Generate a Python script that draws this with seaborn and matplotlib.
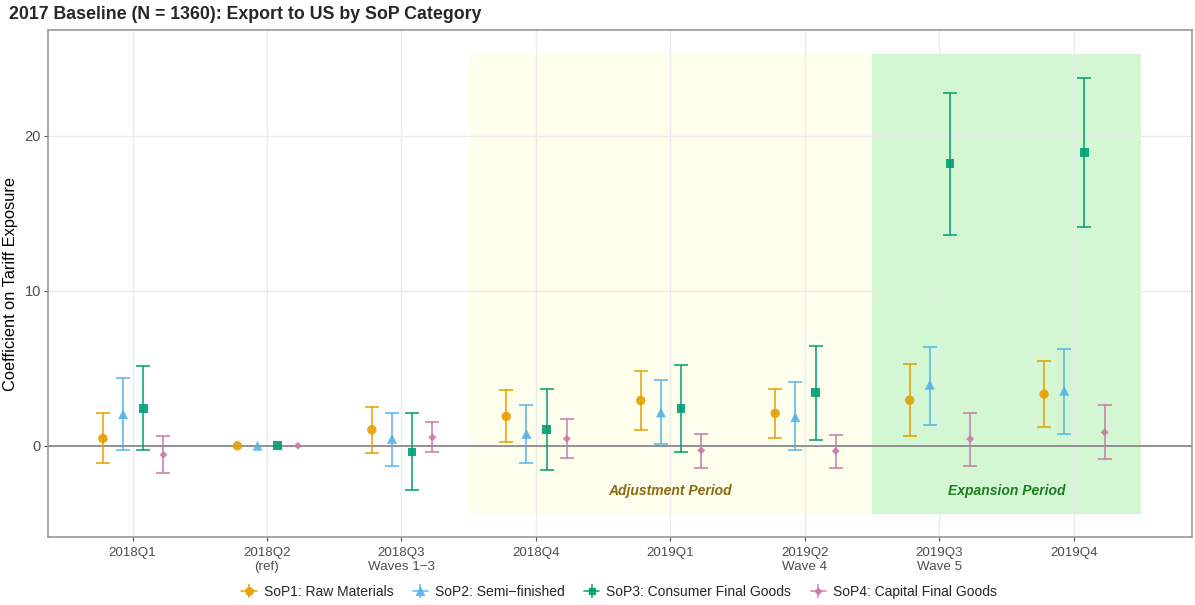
import numpy as np
import pandas as pd
import matplotlib
matplotlib.use("Agg")
import matplotlib.pyplot as plt
import seaborn as sns

quarters = ["2018Q1", "2018Q2\n(ref)", "2018Q3\nWaves 1\u22123", "2018Q4",
            "2019Q1", "2019Q2\nWave 4", "2019Q3\nWave 5", "2019Q4"]
series = ["SoP1: Raw Materials", "SoP2: Semi\u2212finished",
          "SoP3: Consumer Final Goods", "SoP4: Capital Final Goods"]

sop1_est = [0.47, 0.0, 1.03, 1.89, 2.92, 2.09, 2.94, 3.33]
sop1_lo  = [-1.14, 0.0, -0.47, 0.23, 1.03, 0.49, 0.61, 1.22]
sop1_hi  = [2.10, 0.0, 2.47, 3.61, 4.80, 3.68, 5.25, 5.45]

sop2_est = [2.04, 0.0, 0.45, 0.77, 2.15, 1.85, 3.94, 3.55]
sop2_lo  = [-0.26, 0.0, -1.29, -1.12, 0.10, -0.30, 1.35, 0.78]
sop2_hi  = [4.37, 0.0, 2.10, 2.65, 4.22, 4.09, 6.34, 6.21]

sop3_est = [2.39, 0.0, -0.39, 1.03, 2.41, 3.42, 18.19, 18.91]
sop3_lo  = [-0.30, 0.0, -2.84, -1.57, -0.41, 0.39, 13.62, 14.10]
sop3_hi  = [5.12, 0.0, 2.10, 3.63, 5.23, 6.45, 22.77, 23.75]

sop4_est = [-0.58, 0.0, 0.54, 0.45, -0.30, -0.34, 0.44, 0.87]
sop4_lo  = [-1.76, 0.0, -0.41, -0.77, -1.42, -1.44, -1.31, -0.87]
sop4_hi  = [0.60, 0.0, 1.53, 1.72, 0.77, 0.69, 2.14, 2.64]

ests = [sop1_est, sop2_est, sop3_est, sop4_est]
los = [sop1_lo, sop2_lo, sop3_lo, sop4_lo]
his = [sop1_hi, sop2_hi, sop3_hi, sop4_hi]

colors = ["#E69F00", "#56B4E9", "#009E73", "#CC79A7"]
markers = ["o", "^", "s", "D"]
msizes = [6.8, 7.2, 6.2, 4.0]
offsets = [-0.22, -0.07, 0.08, 0.23]

rows = []
for s, e, lo, hi, off in zip(series, ests, los, his, offsets):
    for i, q in enumerate(quarters):
        rows.append(dict(series=s, quarter=q, idx=i, x=i + off, est=e[i], lo=lo[i], hi=hi[i]))
df = pd.DataFrame(rows)

sns.set_theme(style="whitegrid")
plt.rcParams['font.family'] = ['Liberation Sans', 'DejaVu Sans']

fig, ax = plt.subplots(figsize=(11.95, 6.05), dpi=100)
fig.subplots_adjust(left=0.040, right=0.9975, top=0.950, bottom=0.112)

# shaded periods
ax.fill_between([2.5, 5.5], -4.4, 25.3, color="#FDFEEB", zorder=0.5, linewidth=0)
ax.fill_between([5.5, 7.5], -4.4, 25.3, color="#D3F6D3", zorder=0.5, linewidth=0)
ax.text(4.0, -2.9, "Adjustment Period", ha="center", va="center", fontsize=10,
        fontweight="bold", fontstyle="italic", color="#8B6914", zorder=3)
ax.text(6.5, -2.9, "Expansion Period", ha="center", va="center", fontsize=10,
        fontweight="bold", fontstyle="italic", color="#1E7B1E", zorder=3)

ax.axhline(0, color="#777777", linewidth=1.1, zorder=1)

handles = []
for s, c, m, ms in zip(series, colors, markers, msizes):
    d = df[df.series == s]
    nz = d[d.quarter != quarters[1]]
    ax.errorbar(nz.x, nz.est, yerr=[nz.est - nz.lo, nz.hi - nz.est], fmt="none",
                ecolor=c, elinewidth=1.3, capsize=5, capthick=1.3, alpha=0.85, zorder=2)
    h = ax.errorbar([], [], yerr=[[], []], fmt=m + "-", color=c, ms=ms * 0.8, lw=1.2,
                    elinewidth=1.2, capsize=0, alpha=0.85)
    handles.append(h)

sns.scatterplot(data=df, x="x", y="est", hue="series", style="series",
                palette=dict(zip(series, colors)), markers=dict(zip(series, markers)),
                size="series", sizes=dict(zip(series, [m**2 for m in msizes])),
                linewidth=0, alpha=0.9, legend=False, ax=ax, zorder=4)

ax.set_xlim(-0.63, 7.88)
ax.set_ylim(-5.9, 26.8)
ax.set_xticks(range(len(quarters)))
ax.set_xticklabels(quarters, fontsize=9.6, color="#4D4D4D", linespacing=1.2)
ax.set_yticks([0, 10, 20])
ax.set_yticklabels(["0", "10", "20"], fontsize=10.5, color="#4D4D4D")
ax.tick_params(axis="both", length=3, width=0.8, color="#4D4D4D", pad=2, bottom=True, left=True)
ax.tick_params(axis="x", pad=4)
ax.grid(True, color="#EBEBEB", linewidth=1.0)
ax.set_axisbelow(True)
for sp in ax.spines.values():
    sp.set_color("#999999")
    sp.set_linewidth(1.2)
ax.set_xlabel("")
ax.set_ylabel("Coefficient on Tariff Exposure", fontsize=11.8, color="black", labelpad=5)

ax.set_title("2017 Baseline (N = 1360): Export to US by SoP Category", loc="left",
             x=-0.034, fontsize=12.8, fontweight="bold", pad=8)

fig.legend(handles, series, loc="center", bbox_to_anchor=(0.518, 0.021), ncol=4,
           frameon=False, fontsize=10, handlelength=1.1, handletextpad=0.5, columnspacing=1.4)

fig.savefig("out.png", dpi=100)
